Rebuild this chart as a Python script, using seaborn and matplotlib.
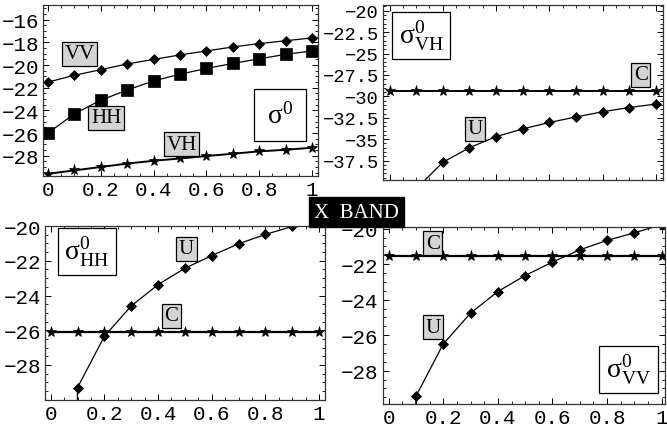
import matplotlib
matplotlib.use("Agg")
import matplotlib.pyplot as plt
import seaborn as sns
import numpy as np
import pandas as pd
from matplotlib.ticker import FixedLocator, MultipleLocator

sns.set_theme(style="white")
plt.rcParams['font.family'] = ['Liberation Mono', 'DejaVu Sans']
plt.rcParams['axes.unicode_minus'] = False
plt.rcParams['mathtext.fontset'] = 'custom'
plt.rcParams['mathtext.rm'] = 'Liberation Serif'
plt.rcParams['mathtext.it'] = 'Liberation Serif'

# ---------------- data ----------------
x_vals = [0.0, 0.1, 0.2, 0.3, 0.4, 0.5, 0.6, 0.7, 0.8, 0.9, 1.0]

# Panel 1: sigma0 (VV, HH, VH)
vv_all = [-21.5, -20.9, -20.4, -19.9, -19.5, -19.1, -18.75, -18.4, -18.1, -17.85, -17.6]
hh_all = [-26.0, -24.3, -23.1, -22.2, -21.4, -20.8, -20.3, -19.85, -19.45, -19.05, -18.75]
vh_all = [-29.6, -29.3, -29.0, -28.7, -28.45, -28.25, -28.03, -27.83, -27.62, -27.48, -27.3]

# Panel 2: sigma0_VH (C, U)
vh_c = [-29.4] * 11
vh_u_x = [0.1, 0.2, 0.3, 0.4, 0.5, 0.6, 0.7, 0.8, 0.9, 1.0]
vh_u = [-40.8, -37.7, -36.0, -34.7, -33.8, -33.05, -32.4, -31.8, -31.3, -30.9]

# Panel 3: sigma0_HH (C, U)
hh_c = [-26.1] * 11
hh_u = [-200.0, -29.3, -26.35, -24.6, -23.37, -22.43, -21.7, -21.02, -20.48, -20.02, -19.6]

# Panel 4: sigma0_VV (C, U)
vv_c = [-21.56] * 11
vv_u = [-200.0, -29.45, -26.5, -24.76, -23.54, -22.64, -21.88, -21.19, -20.66, -20.23, -19.77]

x_ticks = [0, 0.2, 0.4, 0.6, 0.8, 1]
x_ticklabels = ["0", "0.2", "0.4", "0.6", "0.8", "1"]
y1_ticks = [-16, -18, -20, -22, -24, -26, -28]
y2_ticks = [-20, -22.5, -25, -27.5, -30, -32.5, -35, -37.5]
y34_ticks = [-20, -22, -24, -26, -28]

# ---------------- figure ----------------
fig = plt.figure(figsize=(6.67, 4.35), dpi=100)
ax1 = fig.add_axes([0.0645, 0.593, 0.4123, 0.393])
ax2 = fig.add_axes([0.574, 0.584, 0.420, 0.402])
ax3 = fig.add_axes([0.0675, 0.078, 0.4195, 0.400])
ax4 = fig.add_axes([0.574, 0.069, 0.423, 0.407])

def style(ax, xlim, ylim, yticks, yminor, xlabels=True, lsize=15):
    ax.set_xlim(*xlim)
    ax.set_ylim(*ylim)
    ax.xaxis.set_major_locator(FixedLocator(x_ticks))
    ax.xaxis.set_minor_locator(MultipleLocator(0.05))
    ax.yaxis.set_major_locator(FixedLocator(yticks))
    ax.yaxis.set_minor_locator(MultipleLocator(yminor))
    if xlabels:
        ax.set_xticklabels(x_ticklabels)
    else:
        ax.set_xticklabels([])
    ax.set_yticklabels([("%g" % t).replace("-", "\u2212") for t in yticks])
    ax.tick_params(which='both', direction='in', top=True, right=True,
                   bottom=True, left=True, color='black', labelsize=lsize,
                   labelcolor='black')
    ax.tick_params(which='major', length=4, width=0.7, pad=3)
    ax.tick_params(which='minor', length=2, width=0.6)
    for s in ax.spines.values():
        s.set_color('#333333')
        s.set_linewidth(0.9)
    ax.set_xlabel("")
    ax.set_ylabel("")
    ax.grid(False)

def line(ax, xs, ys, marker, ms, lw=0.9):
    df = pd.DataFrame({"x": xs, "y": ys})
    sns.lineplot(data=df, x="x", y="y", ax=ax, color='black', marker=marker,
                 markersize=ms, linewidth=lw, markeredgecolor='black',
                 markeredgewidth=0.5, sort=False, legend=False)

gray = dict(boxstyle='square,pad=0.12', fc='#d4d4d4', ec='black', lw=0.9)
white = dict(boxstyle='square,pad=0.25', fc='white', ec='black', lw=0.9)
lab_font = dict(family='Liberation Serif', fontsize=15, color='black',
                ha='center', va='center')
sig_font = dict(fontsize=20, color='black', ha='center', va='center')

# Panel 1
line(ax1, x_vals, vv_all, 'D', 5.5)
line(ax1, x_vals, hh_all, 's', 9)
line(ax1, x_vals, vh_all, '*', 8, lw=1.4)
style(ax1, (-0.019, 1.023), (-29.8, -14.7), y1_ticks, 0.5)
ax1.text(0.12, -19.0, "VV", bbox=gray, **lab_font)
ax1.text(0.22, -24.67, "HH", bbox=gray, **lab_font)
ax1.text(0.507, -27.0, "VH", bbox=gray, **lab_font)
ax1.text(0.879, -24.4, r"$\mathrm{σ}^{0}$",
         bbox=dict(boxstyle='square,pad=0.45', fc='white', ec='black', lw=0.9),
         **sig_font)

# Panel 2
line(ax2, x_vals, vh_c, '*', 8, lw=1.4)
line(ax2, vh_u_x, vh_u, 'D', 5.5)
style(ax2, (-0.025, 1.027), (-39.76, -19.34), y2_ticks, 0.5, xlabels=False,
      lsize=13.5)
ax2.text(0.944, -27.5, "C", bbox=gray, **lab_font)
ax2.text(0.32, -33.8, "U", bbox=gray, **lab_font)
ax2.text(0.118, -22.9, r"$\mathrm{σ}^{0}_{\mathrm{VH}}$", bbox=white, **sig_font)

# Panel 3
line(ax3, x_vals, hh_c, '*', 8, lw=1.6)
line(ax3, x_vals, hh_u, 'D', 5.5)
style(ax3, (-0.021, 1.021), (-30.02, -20.0), y34_ticks, 0.5)
ax3.text(0.506, -21.31, "U", bbox=gray, **lab_font)
ax3.text(0.45, -25.16, "C", bbox=gray, **lab_font)
ax3.text(0.135, -21.45, r"$\mathrm{σ}^{0}_{\mathrm{HH}}$", bbox=white, **sig_font)

# Panel 4
line(ax4, x_vals, vv_c, '*', 8, lw=1.6)
line(ax4, x_vals, vv_u, 'D', 5.5)
style(ax4, (-0.021, 1.012), (-29.88, -19.9), y34_ticks, 0.5)
ax4.text(0.162, -20.81, "C", bbox=gray, **lab_font)
ax4.text(0.162, -25.56, "U", bbox=gray, **lab_font)
ax4.text(0.878, -27.95, r"$\mathrm{σ}^{0}_{\mathrm{VV}}$", bbox=white, **sig_font)

fig.text(0.534, 0.51, "X  BAND", family='Liberation Serif', fontsize=15,
         color='white', ha='center', va='center',
         bbox=dict(boxstyle='square,pad=0.25', fc='black', ec='black'))

fig.savefig("out.png", dpi=100)
